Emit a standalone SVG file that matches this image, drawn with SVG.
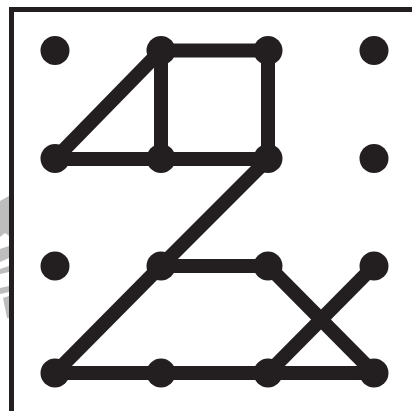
<svg xmlns="http://www.w3.org/2000/svg" width="412" height="411" viewBox="0 0 412 411">
<style>
.edge{stroke:#231f20;stroke-width:14;fill:none;stroke-linecap:butt}
.dot{fill:#231f20}
.frame{stroke:#231f20;stroke-width:5;fill:none}
.wm{fill:#bdbdbd}
</style>
<rect width="412" height="411" fill="#ffffff"/>
<g id="watermark">
<polygon class="wm" points="0,201 9,196 9,236 5,233 0,237"/>
<polygon class="wm" points="0,249 9,246 9,258 0,262"/>
<polygon class="wm" points="0,269 9,266 9,272 0,274"/>
<polygon class="wm" points="0,288 9,286 9,292 0,294"/>
<polygon class="wm" points="3,298 9,296 9,318 7,318"/>
</g>
<g id="frame">
<path class="frame" d="M11.5,411 V9.5 H412"/>
</g>
<g id="connectors">
<line class="edge" x1="161" y1="50.5" x2="268" y2="50.5"/>
<line class="edge" x1="268" y1="50.5" x2="268" y2="159"/>
<line class="edge" x1="161" y1="50.5" x2="161" y2="159"/>
<line class="edge" x1="161" y1="50.5" x2="55" y2="159"/>
<line class="edge" x1="55" y1="159" x2="268" y2="159"/>
<line class="edge" x1="268" y1="159" x2="161" y2="266"/>
<line class="edge" x1="161" y1="266" x2="268" y2="266"/>
<line class="edge" x1="161" y1="266" x2="55" y2="373"/>
<line class="edge" x1="55" y1="373" x2="374" y2="373"/>
<line class="edge" x1="268" y1="266" x2="374" y2="373"/>
<line class="edge" x1="374" y1="266" x2="268" y2="373"/>
</g>
<g id="n11"><circle class="dot" cx="55" cy="50.5" r="14.5"/></g>
<g id="n12"><circle class="dot" cx="161" cy="50.5" r="14.5"/></g>
<g id="n13"><circle class="dot" cx="268" cy="50.5" r="14.5"/></g>
<g id="n14"><circle class="dot" cx="374" cy="50.5" r="14.5"/></g>
<g id="n21"><circle class="dot" cx="55" cy="158.5" r="14.5"/></g>
<g id="n22"><circle class="dot" cx="161" cy="158.5" r="14.5"/></g>
<g id="n23"><circle class="dot" cx="268" cy="158.5" r="14.5"/></g>
<g id="n24"><circle class="dot" cx="374" cy="158.5" r="14.5"/></g>
<g id="n31"><circle class="dot" cx="55" cy="266" r="14.5"/></g>
<g id="n32"><circle class="dot" cx="161" cy="266" r="14.5"/></g>
<g id="n33"><circle class="dot" cx="268" cy="266" r="14.5"/></g>
<g id="n34"><circle class="dot" cx="374" cy="266" r="14.5"/></g>
<g id="n41"><circle class="dot" cx="55" cy="373" r="14.5"/></g>
<g id="n42"><circle class="dot" cx="161" cy="373" r="14.5"/></g>
<g id="n43"><circle class="dot" cx="268" cy="373" r="14.5"/></g>
<g id="n44"><circle class="dot" cx="374" cy="373" r="14.5"/></g>
</svg>
